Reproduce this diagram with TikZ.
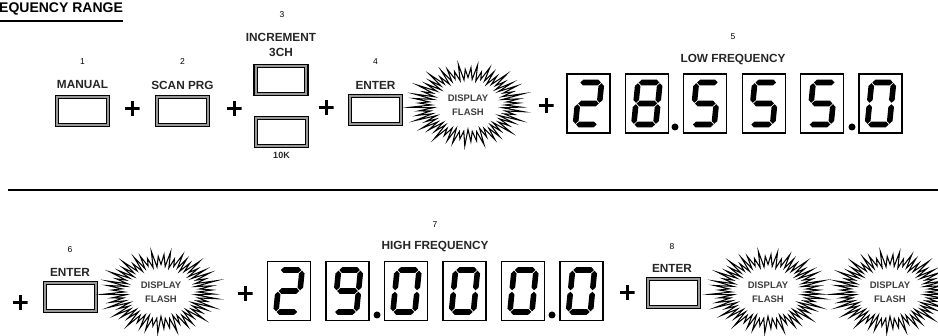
\documentclass[tikz,border=0pt]{standalone}
\usepackage{fontspec}
\setmainfont{Liberation Sans}
\usepackage{xcolor}

% seven segment pieces (local units, y downwards)
\newcommand\hseg[3]{\fill (#1-2.8,#3) -- (#1,#3-2.8) -- (#2,#3-2.8) -- (#2+2.8,#3) -- (#2,#3+2.8) -- (#1,#3+2.8) -- cycle;}
\newcommand\vseg[3]{\fill (#1,#2-2.8) -- (#1+2.8,#2) -- (#1+2.8,#3) -- (#1,#3+2.8) -- (#1-2.8,#3) -- (#1-2.8,#2) -- cycle;}
\newcommand\segA{\hseg{-7.5}{7.5}{-21}}
\newcommand\segB{\vseg{11}{-17.5}{-3.5}}
\newcommand\segC{\vseg{11}{3.5}{17.5}}
\newcommand\segD{\hseg{-7.5}{7.5}{21}}
\newcommand\segE{\vseg{-11}{3.5}{17.5}}
\newcommand\segF{\vseg{-11}{-17.5}{-3.5}}
\newcommand\segG{\hseg{-7.5}{7.5}{0}}
\expandafter\def\csname digit0\endcsname{A,B,C,D,E,F}
\expandafter\def\csname digit2\endcsname{A,B,G,E,D}
\expandafter\def\csname digit5\endcsname{A,F,G,C,D}
\expandafter\def\csname digit8\endcsname{A,B,C,D,E,F,G}
\expandafter\def\csname digit9\endcsname{A,B,C,D,F,G}
\newcommand\segdigit[2]{%
  \expandafter\let\expandafter\seglist\csname digit#2\endcsname
  \begin{scope}[shift={(#1.center)}, xslant=0.1]
    \foreach \s in \seglist {\csname seg\s\endcsname}
  \end{scope}}

% display flash burst
\newcommand\starburst[1]{%
  \begin{scope}[shift={(#1)}]
    \draw[burstline] (37,0) \foreach \k in {0,...,55}{
      -- ({37*(1+0.06*sin(251*\k))*cos(6.43*\k)},{26*(1+0.06*sin(251*\k))*sin(6.43*\k)})
      -- ({38*(1.4+0.13*sin(137*\k))*cos(6.43*\k+3.2)},{27*(1.4+0.13*sin(137*\k))*sin(6.43*\k+3.2)})
    } -- cycle;
  \end{scope}}

\begin{document}
\begin{tikzpicture}[
    x=1pt, y=-1pt,
    lbl/.style={inner sep=0pt, text=black!85, font=\fontsize{11.8}{13}\selectfont\bfseries},
    num/.style={inner sep=0pt, font=\fontsize{8.5}{9}\selectfont},
    btn/.style={draw, line width=1.5pt, fill=black!40, minimum width=54pt,
                minimum height=31pt, inner sep=0pt,
                path picture={\draw[line width=0.8pt, fill=white]
                  ([shift={(3.2pt,3.2pt)}]path picture bounding box.south west) rectangle
                  ([shift={(-3.2pt,-3.2pt)}]path picture bounding box.north east);}},
    digitbox/.style={draw, line width=1.1pt, minimum width=43pt, minimum height=59pt, inner sep=0pt},
    plus/.style={minimum size=15pt, inner sep=0pt,
                 path picture={\draw[line width=3pt]
                   (path picture bounding box.north) -- (path picture bounding box.south)
                   (path picture bounding box.west) -- (path picture bounding box.east);}},
    dot/.style={circle, fill, minimum size=7pt, inner sep=0pt},
    flash/.style={align=center, font=\fontsize{9.5}{14}\selectfont\bfseries, text=black!75, inner sep=0pt},
    burstline/.style={line width=1.05pt, fill=white, line join=miter, miter limit=25},
    rule/.style={line width=1.4pt}
]
\useasboundingbox (0,0) rectangle (938,336);

% Title
\node[anchor=west, inner sep=0pt, font=\fontsize{14}{16}\selectfont\bfseries] (title) at (-1,9) {EQUENCY RANGE};
\draw[rule] (0,21) -- (title.east |- 0,21);

% Row 1: buttons
\node[num] (n1) at (82.5,62) {1};
\node[lbl] (manualtxt) at (82.5,85) {MANUAL};
\node[btn] (manual) at (82.5,111) {};
\node[plus] (plusA) at (132,109) {};

\node[num] (n2) at (182.5,62) {2};
\node[lbl] (scantxt) at (182.5,85) {SCAN PRG};
\node[btn] (scan) at (182.5,111) {};
\node[plus] (plusB) at (234,109) {};

\node[num] (n3) at (282,15) {3};
\node[lbl] (inctxt) at (281,37) {INCREMENT};
\node[lbl] (chtxt) at (281,52) {3CH};
\node[btn] (incch) at (281,80) {};
\node[btn] (inck) at (281.5,132) {};
\node[lbl, font=\fontsize{9}{10}\selectfont\bfseries] (ktxt) at (281.5,155) {10K};
\node[plus] (plusC) at (326,108) {};

\node[num] (n4) at (375.5,62) {4};
\node[lbl] (entertxtA) at (375.5,85) {ENTER};
\node[btn] (enterA) at (375.5,110) {};

\coordinate (burstA) at (468,105);
\starburst{burstA}
\node[flash] (flashA) at (burstA) {DISPLAY\\FLASH};
\node[plus] (plusD) at (546,106) {};

% Row 1: low frequency display
\node[num] (n5) at (733,37) {5};
\node[lbl] (lowtxt) at (733,60) {LOW FREQUENCY};
\foreach \d [count=\i] in {2,8,5,5,5,0} {
    \node[digitbox] (low\i) at ({588.5+58.4*(\i-1)},103.5) {};
    \segdigit{low\i}{\d}
}
\node[dot] (lowdotA) at (675,127) {};
\node[dot] (lowdotB) at (852,127) {};

% Separator
\draw[rule] (8,190) -- (938,190);

% Row 2
\node[plus] (plusE) at (20,303) {};
\node[num] (n6) at (70,250) {6};
\node[lbl] (entertxtB) at (70,272) {ENTER};
\node[btn] (enterB) at (70.5,297) {};

\coordinate (burstB) at (161,292);
\starburst{burstB}
\node[flash] (flashB) at (burstB) {DISPLAY\\FLASH};
\node[plus] (plusF) at (245,294) {};

\node[num] (n7) at (435,225) {7};
\node[lbl] (hightxt) at (435,247) {HIGH FREQUENCY};
\foreach \d [count=\i] in {2,9,0,0,0,0} {
    \node[digitbox] (high\i) at ({289+58.5*(\i-1)},291) {};
    \segdigit{high\i}{\d}
}
\node[dot] (highdotA) at (377,315) {};
\node[dot] (highdotB) at (552,315) {};

\node[plus] (plusG) at (627,293) {};
\node[num] (n8) at (672,247) {8};
\node[lbl] (entertxtC) at (672,268) {ENTER};
\node[btn] (enterC) at (673.5,293) {};

\coordinate (burstC) at (768,292);
\starburst{burstC}
\node[flash] (flashC) at (burstC) {DISPLAY\\FLASH};
\coordinate (burstD) at (890,292);
\starburst{burstD}
\node[flash] (flashD) at (burstD) {DISPLAY\\FLASH};

\end{tikzpicture}
\end{document}
